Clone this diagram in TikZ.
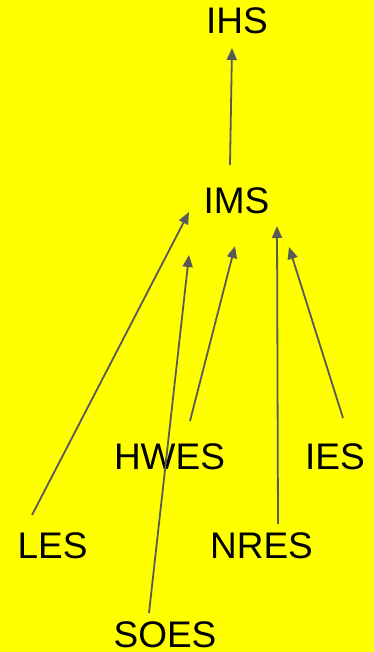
\documentclass[tikz,border=0pt]{standalone}
\usepackage{fontspec}
\setmainfont{Liberation Sans}
\usepackage{tikz}
\usetikzlibrary{arrows,arrows.meta,positioning,calc,backgrounds}
\definecolor{edgegray}{RGB}{89,89,89}
\definecolor{bgyellow}{RGB}{255,255,0}

\begin{document}
\begin{tikzpicture}[x=1pt, y=-1pt,
  every node/.style={font=\fontsize{37}{44}\selectfont, inner sep=0pt, anchor=base},
  link/.style={draw=edgegray, line width=1.8pt, -{Triangle[length=12pt,width=10pt]}}]
% background
\fill[bgyellow] (0,0) rectangle (374,652);
\useasboundingbox (0,0) rectangle (374,652);
%Top
\node (ihs) at (237,34) {IHS};
\node (ims) at (236.5,213) {IMS};
%Sources
\node (hwes) at (169.5,469) {HWES};
\node (ies) at (335,469) {IES};
\node (les) at (52.5,558) {LES};
\node (nres) at (261.5,558) {NRES};
\node (soes) at (165,647) {SOES};

\draw[link] ([shift={(-6.5,-48)}]ims.base) -- ([shift={(-5,14)}]ihs.base);
\draw[link] ([shift={(-20.5,-43)}]les.base) -- ([shift={(-47.5,-1)}]ims.base);
\draw[link] ([shift={(-16,-34)}]soes.base) -- ([shift={(-47.5,42)}]ims.base);
\draw[link] ([shift={(20.5,-48)}]hwes.base) -- ([shift={(-1.5,33)}]ims.base);
\draw[link] ([shift={(16.5,-34)}]nres.base) -- ([shift={(40.5,13)}]ims.base);
\draw[link] ([shift={(8,-51)}]ies.base) -- ([shift={(52.5,34)}]ims.base);
%\draw[link] (les) -- (ims);
\end{tikzpicture}
\end{document}
